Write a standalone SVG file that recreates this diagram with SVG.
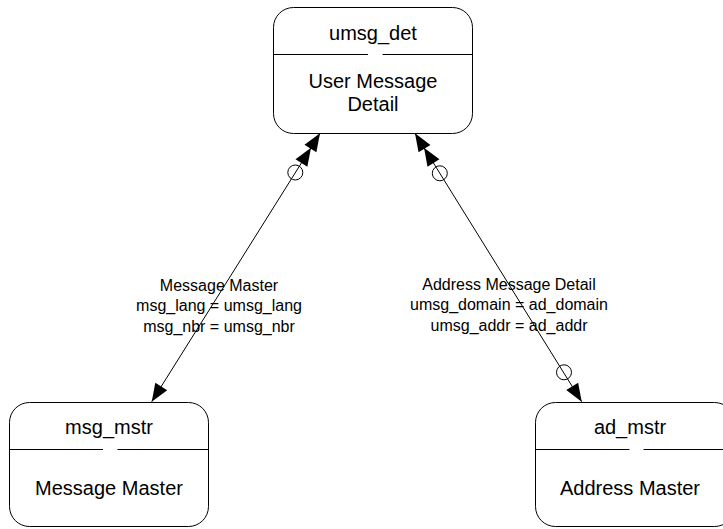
<svg xmlns="http://www.w3.org/2000/svg" width="723" height="529" viewBox="0 0 723 529">
  <style>
    .box { fill: #ffffff; stroke: #000000; stroke-width: 1; }
    .div { stroke: #000000; stroke-width: 1; fill: none; }
    .ntext { font-family: "Liberation Sans", Arial, sans-serif; font-size: 20px; fill: #000000; text-anchor: middle; }
    .ltext { font-family: "Liberation Sans", Arial, sans-serif; font-size: 16px; fill: #000000; text-anchor: middle; }
    .conn { stroke: #000000; stroke-width: 1; fill: none; }
    .circ { stroke: #000000; stroke-width: 1; fill: none; }
    .arrow { fill: #000000; stroke: none; }
  </style>
  <defs>
    <polygon id="ah" points="0,0 -18,-7 -18,7"/>
  </defs>
  <rect width="723" height="529" fill="#ffffff"/>

  <g id="connectors">
    <g id="conn-msg">
      <line class="conn" x1="320" y1="133.3" x2="151.7" y2="401.7"/>
      <use href="#ah" class="arrow" transform="translate(320,133.3) rotate(-57.9)"/>
      <use href="#ah" class="arrow" transform="translate(311,147.7) rotate(-57.9)"/>
      <circle class="circ" cx="295.3" cy="172.5" r="7.5"/>
      <use href="#ah" class="arrow" transform="translate(151.7,401.7) rotate(122.1)"/>
      <text class="ltext" x="219" y="290.5">Message Master</text>
      <text class="ltext" x="219" y="311">msg_lang = umsg_lang</text>
      <text class="ltext" x="219" y="331.5">msg_nbr = umsg_nbr</text>
    </g>
    <g id="conn-addr">
      <line class="conn" x1="415" y1="133.3" x2="581.7" y2="401.7"/>
      <use href="#ah" class="arrow" transform="translate(415,133.3) rotate(-121.8)"/>
      <use href="#ah" class="arrow" transform="translate(424,147.7) rotate(-121.8)"/>
      <circle class="circ" cx="439.8" cy="173.3" r="7.5"/>
      <circle class="circ" cx="564" cy="372.3" r="7.5"/>
      <use href="#ah" class="arrow" transform="translate(581.7,401.7) rotate(58.2)"/>
      <text class="ltext" x="509" y="289.5">Address Message Detail</text>
      <text class="ltext" x="509" y="310">umsg_domain = ad_domain</text>
      <text class="ltext" x="509" y="330.5">umsg_addr = ad_addr</text>
    </g>
  </g>

  <g id="umsg_det">
    <rect class="box" x="273.5" y="7.5" width="199" height="126" rx="20" ry="20"/>
    <line class="div" x1="273.5" y1="54.5" x2="368" y2="54.5"/>
    <line class="div" x1="382.5" y1="54.5" x2="472.5" y2="54.5"/>
    <text class="ntext" x="373" y="39.5">umsg_det</text>
    <text class="ntext" x="373" y="87.5">User Message</text>
    <text class="ntext" x="373" y="111">Detail</text>
  </g>

  <g id="msg_mstr">
    <rect class="box" x="9.5" y="402.5" width="199" height="124" rx="20" ry="20"/>
    <line class="div" x1="9.5" y1="449.5" x2="103" y2="449.5"/>
    <line class="div" x1="117.5" y1="449.5" x2="208.5" y2="449.5"/>
    <text class="ntext" x="109" y="433.5">msg_mstr</text>
    <text class="ntext" x="109" y="495">Message Master</text>
  </g>

  <g id="ad_mstr">
    <rect class="box" x="535.5" y="402.5" width="199" height="124" rx="20" ry="20"/>
    <line class="div" x1="535.5" y1="449.5" x2="629.5" y2="449.5"/>
    <line class="div" x1="643.5" y1="449.5" x2="734.5" y2="449.5"/>
    <text class="ntext" x="630" y="433.5">ad_mstr</text>
    <text class="ntext" x="630" y="495">Address Master</text>
  </g>
</svg>
